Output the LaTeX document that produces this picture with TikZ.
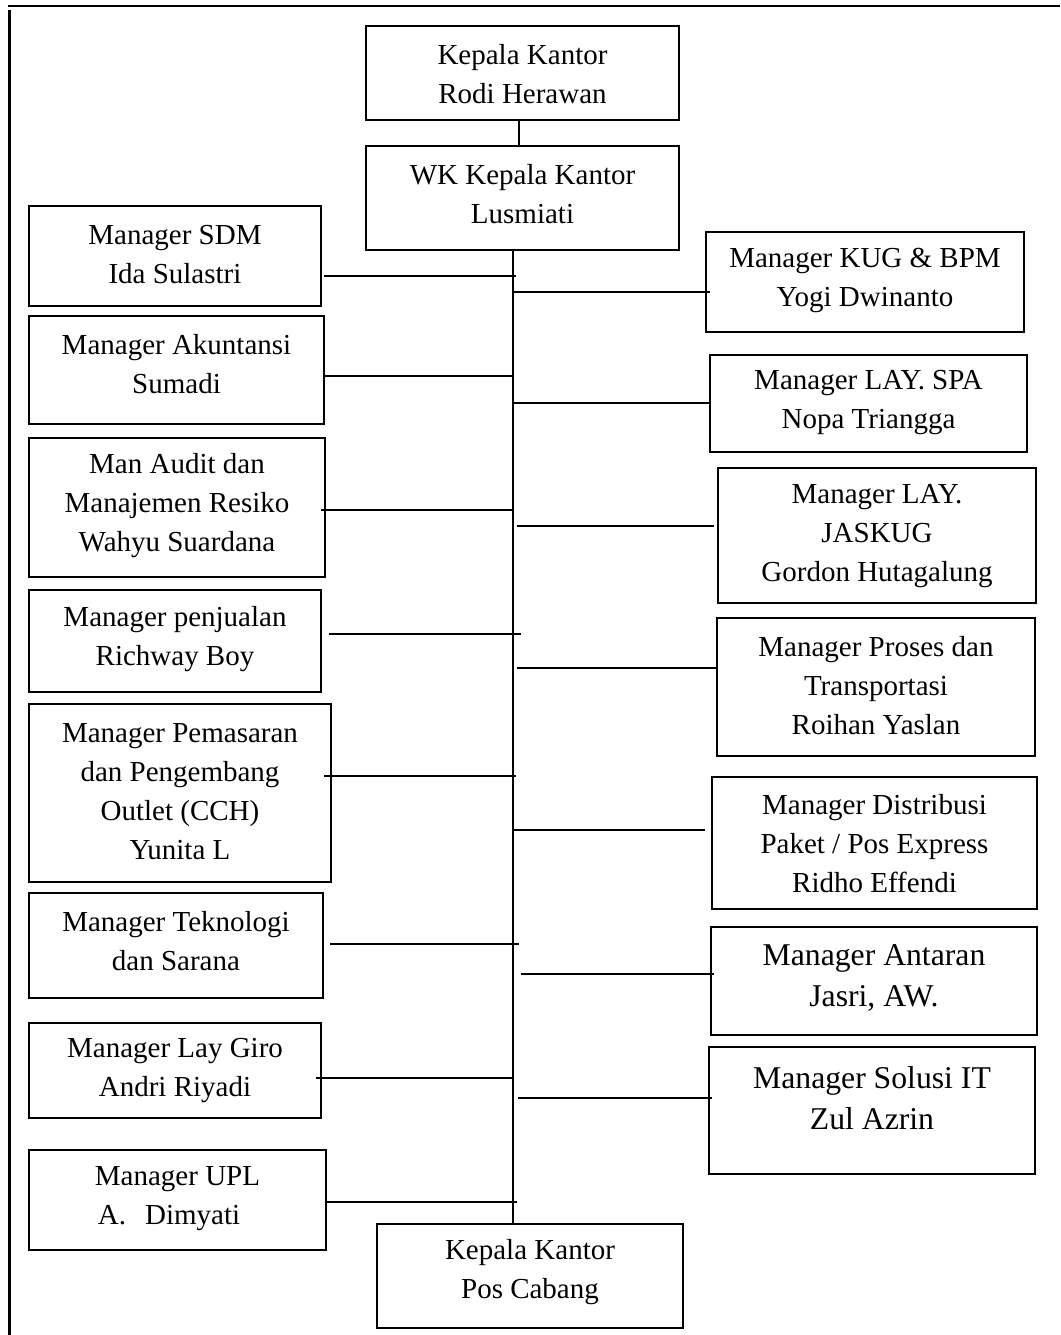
\documentclass[tikz,border=0pt]{standalone}
\usepackage{fontspec}
\setmainfont{Liberation Serif}
\usetikzlibrary{calc}
\begin{document}
\begin{tikzpicture}[x=1pt,y=-1pt,
  orgbox/.style={draw, line width=2.7pt, inner sep=0pt, outer sep=0pt},
  lbl/.style={align=center, inner sep=0pt, font=\fontsize{29}{39}\selectfont},
  biglbl/.style={align=center, inner sep=0pt, font=\fontsize{31.7}{41}\selectfont},
  wire/.style={line width=2.4pt},
  frameline/.style={line width=2.8pt}]
\useasboundingbox (0,0) rectangle (1060,1335);
% frame
\draw[frameline] (8,6) -- (1060,6);
\draw[frameline] (9.5,10) -- (9.5,1335);
% boxes
\node[orgbox, minimum width=313pt, minimum height=94pt] (rodi) at (522.5,73) {};
\node[orgbox, minimum width=313pt, minimum height=104pt] (wk) at (522.5,198) {};
\node[orgbox, minimum width=292pt, minimum height=100pt] (sdm) at (175,256) {};
\node[orgbox, minimum width=295pt, minimum height=108pt] (akun) at (176.5,370) {};
\node[orgbox, minimum width=296pt, minimum height=139pt] (audit) at (177,507.5) {};
\node[orgbox, minimum width=292pt, minimum height=102pt] (jual) at (175,641) {};
\node[orgbox, minimum width=302pt, minimum height=178pt] (pemas) at (180,793) {};
\node[orgbox, minimum width=294pt, minimum height=105pt] (tekno) at (176,945.5) {};
\node[orgbox, minimum width=292pt, minimum height=95pt] (giro) at (175,1070.5) {};
\node[orgbox, minimum width=297pt, minimum height=100pt] (upl) at (177.5,1200) {};
\node[orgbox, minimum width=318pt, minimum height=100pt] (kug) at (865,282) {};
\node[orgbox, minimum width=317pt, minimum height=97pt] (spa) at (868.5,403.5) {};
\node[orgbox, minimum width=318pt, minimum height=135pt] (jaskug) at (877,535.5) {};
\node[orgbox, minimum width=318pt, minimum height=138pt] (proses) at (876,687) {};
\node[orgbox, minimum width=325pt, minimum height=132pt] (dist) at (874.5,843) {};
\node[orgbox, minimum width=326pt, minimum height=108pt] (antar) at (874,981) {};
\node[orgbox, minimum width=326pt, minimum height=127pt] (solusi) at (872,1110.5) {};
\node[orgbox, minimum width=306pt, minimum height=104pt] (cabang) at (530,1276) {};
% labels
\node[lbl] (t-rodi) at (522.5,74.5) {Kepala Kantor\\Rodi Herawan};
\node[lbl] (t-wk) at (522.5,194) {WK Kepala Kantor\\Lusmiati};
\node[lbl] (t-sdm) at (175,254.5) {Manager SDM\\Ida Sulastri};
\node[lbl] (t-akun) at (176.5,364) {Manager Akuntansi\\Sumadi};
\node[lbl] (t-audit) at (177,506) {Man Audit dan\\Manajemen Resiko\\Wahyu Suardana};
\node[lbl] (t-jual) at (175,639) {Manager penjualan\\Richway Boy};
\node[lbl] (t-pemas) at (180,791.5) {Manager Pemasaran\\dan Pengembang\\Outlet (CCH)\\Yunita L};
\node[lbl] (t-tekno) at (176,941) {Manager Teknologi\\dan Sarana};
\node[lbl] (t-giro) at (175,1070.5) {Manager Lay Giro\\Andri Riyadi};
\node[lbl] (t-upl) at (177.5,1198.5) {Manager UPL\\A.\hspace{19pt}Dimyati\kern17pt};
\node[lbl] (t-kug) at (865,280.5) {Manager KUG \& BPM\\Yogi Dwinanto};
\node[lbl] (t-spa) at (868.5,403) {Manager LAY. SPA\\Nopa Triangga};
\node[lbl] (t-jaskug) at (877,536) {Manager LAY.\\JASKUG\\Gordon Hutagalung};
\node[lbl] (t-proses) at (876,685.5) {Manager Proses dan\\Transportasi\\Roihan Yaslan};
\node[lbl] (t-dist) at (874.5,844) {Manager Distribusi\\Paket / Pos Express\\Ridho Effendi};
\node[biglbl] (t-antar) at (874,977.5) {Manager Antaran\\Jasri, AW.};
\node[biglbl] (t-solusi) at (872,1098.5) {Manager Solusi IT\\Zul Azrin};
\node[lbl] (t-cabang) at (530,1272.5) {Kepala Kantor\\Pos Cabang};
% trunk
\coordinate (rx) at (519,0);
\coordinate (tx) at (513,0);
\draw[wire] (rodi.south -| rx) -- (wk.north -| rx);
\draw[wire] (wk.south -| tx) -- (cabang.north -| tx);
% left branch junctions
\coordinate (j-sdm) at (516,276);
\coordinate (j-akun) at (513,376);
\coordinate (j-audit) at (513,510);
\coordinate (j-jual) at (521,634);
\coordinate (j-pemas) at (516,776);
\coordinate (j-tekno) at (519,944);
\coordinate (j-giro) at (513,1078);
\coordinate (j-upl) at (517,1202);
\draw[wire] ($(sdm.east |- j-sdm)+(3,0)$) -- (j-sdm);
\draw[wire] ($(akun.east |- j-akun)+(0,0)$) -- (j-akun);
\draw[wire] ($(audit.east |- j-audit)+(-4,0)$) -- (j-audit);
\draw[wire] ($(jual.east |- j-jual)+(8,0)$) -- (j-jual);
\draw[wire] ($(pemas.east |- j-pemas)+(-7,0)$) -- (j-pemas);
\draw[wire] ($(tekno.east |- j-tekno)+(7,0)$) -- (j-tekno);
\draw[wire] ($(giro.east |- j-giro)+(-5,0)$) -- (j-giro);
\draw[wire] (upl.east |- j-upl) -- (j-upl);
% right branch junctions
\coordinate (j-kug) at (512,292);
\coordinate (j-spa) at (513,403);
\coordinate (j-jaskug) at (517,526);
\coordinate (j-proses) at (517,668);
\coordinate (j-dist) at (513,830);
\coordinate (j-antar) at (521,974);
\coordinate (j-solusi) at (518,1098);
\draw[wire] (j-kug) -- ($(kug.west |- j-kug)+(4,0)$);
\draw[wire] (j-spa) -- ($(spa.west |- j-spa)+(1,0)$);
\draw[wire] (j-jaskug) -- ($(jaskug.west |- j-jaskug)+(-4,0)$);
\draw[wire] (j-proses) -- (proses.west |- j-proses);
\draw[wire] (j-dist) -- ($(dist.west |- j-dist)+(-7,0)$);
\draw[wire] (j-antar) -- ($(antar.west |- j-antar)+(3,0)$);
\draw[wire] (j-solusi) -- ($(solusi.west |- j-solusi)+(3,0)$);
\end{tikzpicture}
\end{document}
